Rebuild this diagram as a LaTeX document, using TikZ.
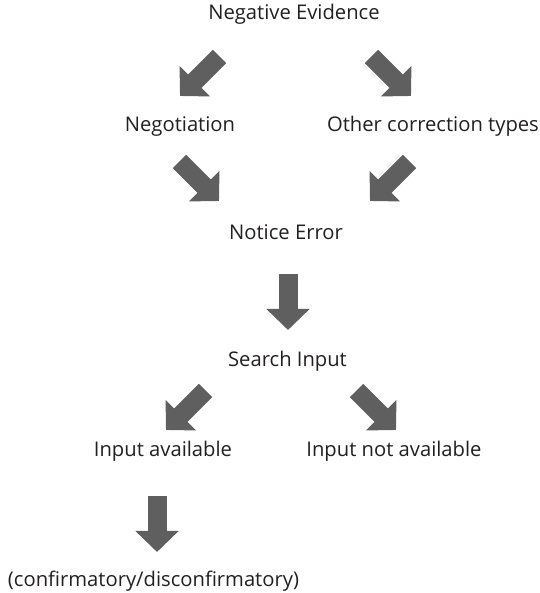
\documentclass[tikz,border=0pt]{standalone}
\usepackage{fontspec}
\setmainfont{Open Sans}
\usepackage{xcolor}
\usetikzlibrary{arrows.meta}
\definecolor{arrowgray}{HTML}{5F5F5F}
\definecolor{textgray}{HTML}{231F20}
\tikzset{
	fatarrow/.style={draw=arrowgray, line width=0.38cm, -{Triangle[width=0.84cm, length=0.42cm]}},
	stagetext/.style={anchor=base, inner sep=0pt, text=textgray, font=\fontsize{11.5}{13}\selectfont}
}

\begin{document}
\begin{tikzpicture}
	\useasboundingbox (0, 0) rectangle (10.8, 11.86);
	% Texts:
	\node[stagetext] (negev) at (5.88, 11.46){Negative Evidence};
	\node[stagetext] (negot) at (3.60, 9.23){Negotiation};
	\node[stagetext] (othercorr) at (8.66, 9.23){Other correction types};
	\node[stagetext] (notice) at (5.72, 7.06){Notice Error};
	\node[stagetext] (search) at (5.75, 4.53){Search Input};
	\node[stagetext] (inav) at (3.26, 2.72){Input available};
	\node[stagetext] (innotav) at (7.88, 2.72){Input not available};
	\node[stagetext] (confirm) at (3.07, 0.13){(confirmatory/disconfirmatory)};
	% Arrow ends:
	\coordinate (a1s) at (4.39, 10.73);
	\coordinate (a1e) at (3.60, 9.94);
	\coordinate (a2s) at (7.43, 10.73);
	\coordinate (a2e) at (8.22, 9.94);
	\coordinate (a3s) at (3.59, 8.63);
	\coordinate (a3e) at (4.38, 7.84);
	\coordinate (a4s) at (8.19, 8.63);
	\coordinate (a4e) at (7.40, 7.84);
	\coordinate (a5s) at (5.76, 6.38);
	\coordinate (a5e) at (5.76, 5.26);
	\coordinate (a6s) at (4.11, 4.05);
	\coordinate (a6e) at (3.32, 3.26);
	\coordinate (a7s) at (7.13, 4.05);
	\coordinate (a7e) at (7.92, 3.26);
	\coordinate (a8s) at (3.14, 1.94);
	\coordinate (a8e) at (3.14, 0.82);
	% Arrows:
	\draw[fatarrow] (a1s) -- (a1e);
	\draw[fatarrow] (a2s) -- (a2e);
	\draw[fatarrow] (a3s) -- (a3e);
	\draw[fatarrow] (a4s) -- (a4e);
	\draw[fatarrow] (a5s) -- (a5e);
	\draw[fatarrow] (a6s) -- (a6e);
	\draw[fatarrow] (a7s) -- (a7e);
	\draw[fatarrow] (a8s) -- (a8e);
\end{tikzpicture}
\end{document}
